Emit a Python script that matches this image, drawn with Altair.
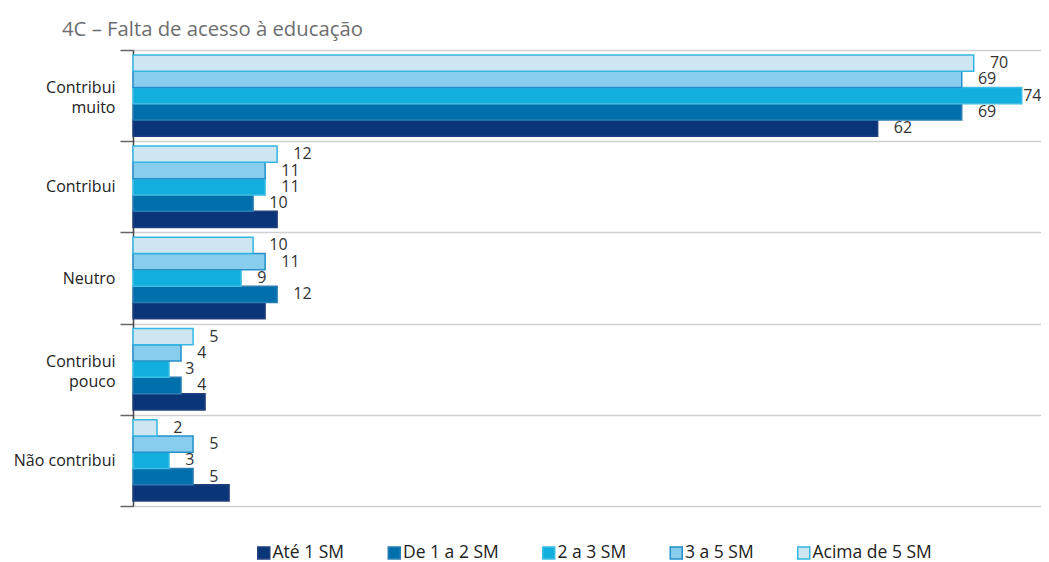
import altair as alt
import pandas as pd

groups = ["Contribui muito", "Contribui", "Neutro", "Contribui pouco", "Não contribui"]
series = ["Até 1 SM", "De 1 a 2 SM", "2 a 3 SM", "3 a 5 SM", "Acima de 5 SM"]

ate_1 = [62, 12, 11, 6, 8]
de_1_a_2 = [69, 10, 12, 4, 5]
de_2_a_3 = [74, 11, 9, 3, 3]
de_3_a_5 = [69, 11, 11, 4, 5]
acima_5 = [70, 12, 10, 5, 2]

# printed value labels (the original prints only the first one of "Até 1 SM")
labels_ate_1 = ["62", "", "", "", ""]
labels_de_1_a_2 = ["69", "10", "12", "4", "5"]
labels_de_2_a_3 = ["74", "11", "9", "3", "3"]
labels_de_3_a_5 = ["69", "11", "11", "4", "5"]
labels_acima_5 = ["70", "12", "10", "5", "2"]

fills = ["#0a3578", "#0070ad", "#12afde", "#88cdee", "#cde6f1"]
strokes = ["#21407d", "#2a7db3", "#3fbde4", "#2290c9", "#35b6e2"]

values = [ate_1, de_1_a_2, de_2_a_3, de_3_a_5, acima_5]
labels = [labels_ate_1, labels_de_1_a_2, labels_de_2_a_3, labels_de_3_a_5, labels_acima_5]

rows = []
for s, vals, labs in zip(series, values, labels):
    for g, v, l in zip(groups, vals, labs):
        rows.append({"group": g, "series": s, "value": v, "label": l})
df = pd.DataFrame(rows)

FONT = "Open Sans"
XMAX = 75.6

legend = alt.Legend(
    title=None, orient="none", direction="horizontal", legendX=122, legendY=494,
    symbolType="square", symbolSize=144, symbolStrokeWidth=1.5, labelFontSize=17.5,
    labelFont=FONT, labelColor="#222", labelOffset=0, columnPadding=39.5,
)

two_line = "datum.value == 'Contribui muito' || datum.value == 'Contribui pouco'"

y_enc = alt.Y(
    "group:N", sort=groups,
    scale=alt.Scale(paddingInner=0, paddingOuter=0),
    axis=alt.Axis(
        title=None, tickBand="extent", grid=True, gridColor="#d0d0d0", gridWidth=1.5,
        domainColor="#444", domainWidth=1.5, tickColor="#666", tickWidth=1.5, tickSize=13,
        labelFont=FONT, labelFontSize=16, labelColor="#222", labelPadding=5,
        labelLineHeight=20,
        labelOffset={"condition": {"test": two_line, "value": -8}, "value": 0},
        labelExpr="datum.value == 'Contribui muito' ? ['Contribui', 'muito'] : datum.value == 'Contribui pouco' ? ['Contribui', 'pouco'] : datum.value",
    ),
)
yoff_enc = alt.YOffset(
    "series:N", sort=list(reversed(series)),
    scale=alt.Scale(paddingInner=0, paddingOuter=0.3),
)

base = alt.Chart(df)

bars = base.mark_bar(strokeWidth=1.5).encode(
    x=alt.X("value:Q", scale=alt.Scale(domain=[0, XMAX], nice=False), axis=None),
    y=y_enc,
    yOffset=yoff_enc,
    fill=alt.Fill("series:N", sort=series, scale=alt.Scale(domain=series, range=fills), legend=legend),
    stroke=alt.Stroke("series:N", sort=series, scale=alt.Scale(domain=series, range=strokes), legend=legend),
)

text = base.transform_calculate(
    lx="datum.value > 72 ? datum.value + 0.12 : datum.value + 1.35"
).mark_text(
    align="left", baseline="middle", fontSize=16, font=FONT, color="#333"
).encode(
    x=alt.X("lx:Q", scale=alt.Scale(domain=[0, XMAX], nice=False), axis=None),
    y=y_enc,
    yOffset=yoff_enc,
    text="label:N",
)

chart = alt.layer(bars, text).properties(
    width=908, height=456,
    autosize=alt.AutoSizeParams(type="none"),
    padding={"left": 125, "top": 42, "right": 0, "bottom": 56},
    title=alt.TitleParams(
        "4C – Falta de acesso à educação", anchor="start", frame="group", dx=-71,
        offset=12, dy=30, baseline="bottom", fontSize=20.3, font=FONT, fontWeight="normal",
        color="#6d6e70",
    ),
).configure_view(stroke=None)

chart.save("out.html", embed_options={"renderer": "svg", "actions": False})
